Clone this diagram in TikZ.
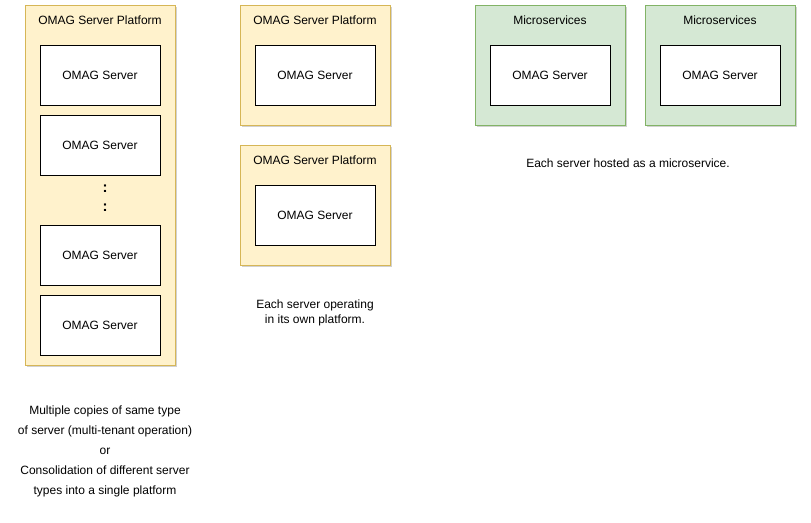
\documentclass[tikz,border=0pt]{standalone}
\usepackage{fontspec}
\setmainfont{Liberation Sans}
\usetikzlibrary{shadows}
\begin{document}
\begin{tikzpicture}[x=1pt,y=-1pt,
  every node/.style={font=\fontsize{12}{14}\selectfont, inner sep=0pt},
  boxshadow/.style={drop shadow={opacity=0.3, shadow xshift=2pt, shadow yshift=-2pt, fill=black!60}},
  platform/.style={draw={rgb,255:red,214;green,182;blue,86}, fill={rgb,255:red,255;green,242;blue,204}, boxshadow, line width=0.8pt},
  micro/.style={draw={rgb,255:red,130;green,179;blue,102}, fill={rgb,255:red,213;green,232;blue,212}, boxshadow, line width=0.8pt},
  server/.style={draw=black, fill=white, line width=0.8pt, minimum width=120pt, minimum height=60pt, rectangle, text depth=0pt},
  caption/.style={align=center}
]
\useasboundingbox (0,0) rectangle (811,522);
% left platform
\node[platform, minimum width=150pt, minimum height=360pt] (p1) at (100,185) {};
\node (p1t) at (100,20) {OMAG Server Platform};
\node[server] (s1) at (100,75) {OMAG Server};
\node[server] (s2) at (100,145) {OMAG Server};
\node[font=\fontsize{15}{15}\bfseries\selectfont] (d1) at (105,189) {:};
\node[font=\fontsize{15}{15}\bfseries\selectfont] (d2) at (105,208) {:};
\node[server] (s3) at (100,255) {OMAG Server};
\node[server] (s4) at (100,325) {OMAG Server};
\node[caption] (c1) at (105,451) {Multiple copies of same type\\[6pt]of server (multi-tenant operation)\\[6pt]or\\[6pt]Consolidation of different server\\[6pt]types into a single platform};
% middle platforms
\node[platform, minimum width=150pt, minimum height=120pt] (p2) at (315,65) {};
\node (p2t) at (315,20) {OMAG Server Platform};
\node[server] (s5) at (315,75) {OMAG Server};
\node[platform, minimum width=150pt, minimum height=120pt] (p3) at (315,205) {};
\node (p3t) at (315,160) {OMAG Server Platform};
\node[server] (s6) at (315,215) {OMAG Server};
\node[caption] (c2) at (315,312.5) {Each server operating\\[1pt]in its own platform.};
% microservices
\node[micro, minimum width=150pt, minimum height=120pt] (m1) at (550,65) {};
\node (m1t) at (550,20) {Microservices};
\node[server] (s7) at (550,75) {OMAG Server};
\node[micro, minimum width=150pt, minimum height=120pt] (m2) at (720,65) {};
\node (m2t) at (720,20) {Microservices};
\node[server] (s8) at (720,75) {OMAG Server};
\node[caption] (c3) at (628,163) {Each server hosted as a microservice.};
\end{tikzpicture}
\end{document}
